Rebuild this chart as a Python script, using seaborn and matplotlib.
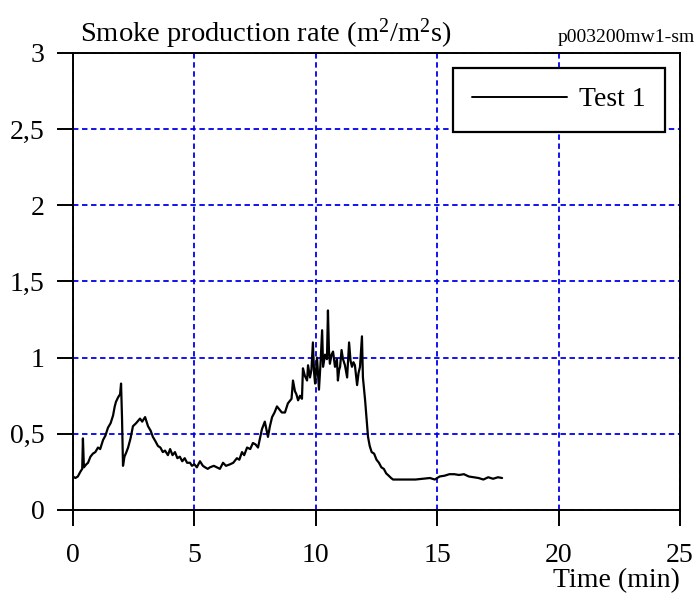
import pandas as pd
import seaborn as sns
import matplotlib.pyplot as plt

time_min = [
    0.0, 0.1, 0.2, 0.3, 0.38, 0.41, 0.45, 0.55, 0.62, 0.72, 0.82, 0.92, 1.03, 1.12,
    1.24, 1.34, 1.44, 1.55, 1.65, 1.72, 1.77, 1.86, 1.94, 1.98, 2.02, 2.06, 2.12,
    2.2, 2.27, 2.37, 2.47, 2.6, 2.76, 2.85, 2.97, 3.09, 3.2, 3.29, 3.4, 3.5, 3.6,
    3.7, 3.79, 3.91, 4.0, 4.1, 4.2, 4.3, 4.4, 4.5, 4.6, 4.7, 4.82, 4.9, 5.0, 5.1,
    5.23, 5.35, 5.44, 5.55, 5.64, 5.8, 5.93, 6.05, 6.18, 6.3, 6.47, 6.6, 6.75,
    6.85, 6.96, 7.05, 7.17, 7.3, 7.41, 7.52, 7.62, 7.7, 7.78, 7.9, 8.03, 8.11,
    8.2, 8.3, 8.4, 8.5, 8.6, 8.73, 8.85, 8.95, 9.0, 9.06, 9.14, 9.2, 9.27, 9.35,
    9.43, 9.47, 9.55, 9.64, 9.68, 9.76, 9.82, 9.88, 9.93, 9.97, 10.05, 10.13,
    10.2, 10.26, 10.3, 10.38, 10.46, 10.5, 10.54, 10.58, 10.65, 10.71, 10.79,
    10.87, 10.91, 10.96, 11.0, 11.06, 11.12, 11.2, 11.29, 11.37, 11.43, 11.49,
    11.55, 11.61, 11.7, 11.76, 11.82, 11.9, 11.94, 12.03, 12.1, 12.15, 12.22,
    12.3, 12.4, 12.5, 12.6, 12.7, 12.8, 12.9, 12.97, 13.1, 13.18, 13.3, 13.5,
    13.8, 14.1, 14.4, 14.7, 14.9, 15.1, 15.3, 15.5, 15.7, 15.9, 16.1, 16.3,
    16.5, 16.7, 16.9, 17.1, 17.3, 17.5, 17.67,
]
smoke_rate = [
    0.22, 0.21, 0.22, 0.25, 0.27, 0.47, 0.28, 0.30, 0.31, 0.35, 0.37, 0.38, 0.41, 0.40,
    0.46, 0.49, 0.54, 0.57, 0.62, 0.68, 0.71, 0.74, 0.76, 0.83, 0.60, 0.29, 0.35,
    0.38, 0.41, 0.47, 0.55, 0.57, 0.60, 0.58, 0.61, 0.55, 0.52, 0.48, 0.45, 0.42, 0.41,
    0.38, 0.39, 0.36, 0.40, 0.36, 0.38, 0.34, 0.35, 0.32, 0.34, 0.31, 0.31, 0.29, 0.30, 0.28,
    0.32, 0.29, 0.28, 0.27, 0.28, 0.29, 0.28, 0.27, 0.31, 0.29, 0.30, 0.31, 0.34,
    0.33, 0.38, 0.36, 0.41, 0.40, 0.44, 0.43, 0.41, 0.47, 0.53, 0.58, 0.48, 0.55,
    0.61, 0.64, 0.68, 0.66, 0.64, 0.64, 0.70, 0.72, 0.73, 0.85, 0.78, 0.76, 0.72, 0.75,
    0.73, 0.93, 0.88, 0.85, 0.95, 0.87, 0.92, 1.10, 0.90, 0.83, 1.00, 0.79,
    0.98, 1.18, 0.94, 1.02, 0.99, 1.31, 1.05, 0.96, 1.02, 1.04, 0.94,
    0.99, 0.85, 0.92, 0.94, 1.05, 0.99, 0.95, 0.87, 1.10, 0.98, 0.94,
    0.97, 0.95, 0.82, 0.90, 0.94, 1.14, 0.87, 0.72, 0.58, 0.48, 0.42,
    0.38, 0.37, 0.33, 0.31, 0.28, 0.27, 0.24, 0.23, 0.21, 0.20, 0.20, 0.20,
    0.20, 0.20, 0.205, 0.21, 0.20, 0.22, 0.225, 0.235, 0.235, 0.23, 0.235, 0.22,
    0.215, 0.21, 0.20, 0.215, 0.205, 0.215, 0.21,
]
x_ticks = [0, 5, 10, 15, 20, 25]
y_ticks = [0, 0.5, 1, 1.5, 2, 2.5, 3]
y_labels = ['0', '0,5', '1', '1,5', '2', '2,5', '3']

df = pd.DataFrame({'time': time_min, 'rate': smoke_rate, 'series': 'Test 1'})

sns.set_style('ticks')
plt.rcParams['font.family'] = ['Liberation Serif', 'DejaVu Serif']
plt.rcParams['text.color'] = 'black'
plt.rcParams['mathtext.fontset'] = 'custom'
plt.rcParams['mathtext.rm'] = 'Liberation Serif'
plt.rcParams['mathtext.it'] = 'Liberation Serif'

fig = plt.figure(figsize=(6.97, 5.96), dpi=100)
ax = fig.add_axes([0.1047, 0.1443, 0.871, 0.7668])

sns.lineplot(data=df, x='time', y='rate', hue='series', palette=['black'],
             linewidth=1.6, ax=ax, zorder=3)

ax.set_xlim(0, 25)
ax.set_ylim(0, 3)
ax.set_xticks(x_ticks)
ax.set_xticklabels([str(v) for v in x_ticks])
ax.set_yticks(y_ticks)
ax.set_yticklabels(y_labels)
ax.tick_params(direction='out', length=11.5, width=1.4, labelsize=20, colors='black')
ax.tick_params(axis='x', pad=12)
ax.tick_params(axis='y', pad=9)

ax.grid(True, color='#0000ee', linestyle=(0, (3, 2)), linewidth=1.3)
for s in ax.spines.values():
    s.set_linewidth(1.4)
    s.set_color('black')

ax.set_xlabel('')
ax.set_ylabel('')
fig.text(0.115, 0.93, 'Smoke production rate (m$^\\mathrm{2}$/m$^\\mathrm{2}$s)',
         fontsize=20.5, ha='left', va='baseline')
fig.text(0.997, 0.93, 'p003200mw1-sm', fontsize=14, ha='right', va='baseline')
fig.text(0.976, 0.005, 'Time (min)', fontsize=20, ha='right', va='bottom')

leg = ax.legend(loc='upper right', bbox_to_anchor=(0.976, 0.968), fontsize=20,
                frameon=True, fancybox=False, handlelength=3.4, borderpad=0.7,
                handletextpad=0.45, borderaxespad=0)
leg.get_frame().set_edgecolor('black')
leg.get_frame().set_linewidth(1.6)
leg.get_frame().set_alpha(1)
for line in leg.get_lines():
    line.set_linewidth(1.4)

fig.savefig('out.png', dpi=100)
